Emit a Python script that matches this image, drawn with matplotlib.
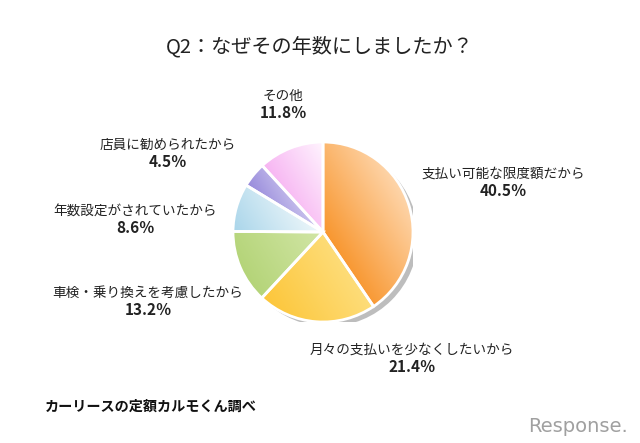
import numpy as np
import matplotlib
matplotlib.use("Agg")
import matplotlib.pyplot as plt
from matplotlib.patches import Circle
from matplotlib.colors import LinearSegmentedColormap

plt.rcParams['font.family'] = ['Noto Sans CJK JP', 'DejaVu Sans']

# データ（時計回り、12時から）
labels = ['支払い可能な限度額だから', '月々の支払いを少なくしたいから',
          '車検・乗り換えを考慮したから', '年数設定がされていたから',
          '店員に勧められたから', 'その他']
values = [40.5, 21.4, 13.2, 8.6, 4.5, 11.8]

# ラベル位置（ピクセル、画像上端基準）
label_pos = [(503, 174), (412, 350), (148, 293), (135, 211), (168, 145), (283, 96)]

# グラデーション用の色（暗い側, 明るい側）
grad_colors = [('#F8962E', '#FED5AA'),
               ('#FCC63A', '#FEDD7A'),
               ('#B4D478', '#D2E6A6'),
               ('#A9D5EA', '#EEF7FA'),
               ('#978ADB', '#CCC5EE'),
               ('#F7B4F2', '#FFF4FE')]

W, H = 640, 443
fig = plt.figure(figsize=(W / 100, H / 100), dpi=100)
fig.patch.set_facecolor('white')

cx, cy, r = 323, 232, 90
ax = fig.add_axes([(cx - r) / W, (H - cy - r) / H, 2 * r / W, 2 * r / H])

# 影
ax.add_patch(Circle((0.055, -0.05), 1.0, facecolor='#BDBDBD', edgecolor='none', zorder=0))

wedges, _ = ax.pie(values, startangle=90, counterclock=False, radius=1.0,
                   colors=[c[0] for c in grad_colors],
                   wedgeprops=dict(edgecolor='white', linewidth=2))
ax.set_xlim(-1, 1)
ax.set_ylim(-1, 1)
ax.set_aspect('equal')
ax.axis('off')

# 各扇形にグラデーション（扇形ごとに範囲を正規化）
xx, yy = np.meshgrid(np.linspace(-1.1, 1.1, 240), np.linspace(-1.1, 1.1, 240))
proj = (xx + 0.6 * yy)
for w, (c0, c1) in zip(wedges, grad_colors):
    t1, t2 = np.deg2rad(w.theta1), np.deg2rad(w.theta2)
    th = np.linspace(t1, t2, 50)
    px = np.concatenate([[0], np.cos(th)])
    py = np.concatenate([[0], np.sin(th)])
    pp = px + 0.6 * py
    grad = np.clip((proj - pp.min()) / (pp.max() - pp.min()), 0, 1)
    cmap = LinearSegmentedColormap.from_list('g', [c0, c1])
    im = ax.imshow(grad, extent=(-1.1, 1.1, -1.1, 1.1), origin='lower', cmap=cmap,
                   zorder=1.5, interpolation='bilinear')
    im.set_clip_path(w)
    w.set_facecolor('none')
    w.set_zorder(2)
ax.set_xlim(-1, 1)
ax.set_ylim(-1, 1)

# ラベル
for lab, v, (px, py) in zip(labels, values, label_pos):
    fig.text(px / W, 1 - py / H, lab, ha='center', va='center', fontsize=9.8, color='#222222')
    fig.text(px / W, 1 - (py + 17) / H, f'{v:.1f}％', ha='center', va='center',
             fontsize=11, fontweight='bold', color='#222222')

fig.text(320 / W, 1 - 47 / H, 'Q2：なぜその年数にしましたか？', ha='center', va='center',
         fontsize=14.5, color='#222222')
fig.text(45 / W, 1 - 407 / H, 'カーリースの定額カルモくん調べ', ha='left', va='center',
         fontsize=10.2, fontweight='bold', color='#111111')
fig.text(628 / W, 1 - 426 / H, 'Response.', ha='right', va='center',
         fontsize=14, color='#A0A0A0', family=['DejaVu Sans'])

fig.savefig('out.png', dpi=100, facecolor='white')
